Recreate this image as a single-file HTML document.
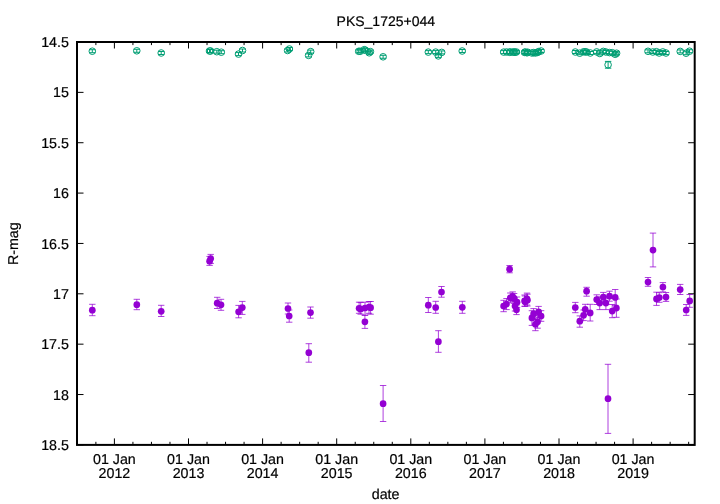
<!DOCTYPE html>
<html><head><meta charset="utf-8"><title>PKS_1725+044</title>
<style>html,body{margin:0;padding:0;background:#fff;}body{width:720px;height:504px;overflow:hidden;}svg{display:block;will-change:transform;}text{text-rendering:geometricPrecision;font-family:"Liberation Sans",sans-serif;font-size:14.25px;fill:#000;stroke:#000;stroke-width:0.2px;}</style>
</head><body>
<svg width="720" height="504" viewBox="0 0 720 504">
<rect x="0" y="0" width="720" height="504" fill="#fff"/>
<g stroke="#000" stroke-width="1.0" fill="none">
<path d="M114.40 444.9 V438.40 M114.40 42.0 V48.50"/>
<path d="M188.50 444.9 V438.40 M188.50 42.0 V48.50"/>
<path d="M262.60 444.9 V438.40 M262.60 42.0 V48.50"/>
<path d="M336.70 444.9 V438.40 M336.70 42.0 V48.50"/>
<path d="M410.80 444.9 V438.40 M410.80 42.0 V48.50"/>
<path d="M484.90 444.9 V438.40 M484.90 42.0 V48.50"/>
<path d="M559.00 444.9 V438.40 M559.00 42.0 V48.50"/>
<path d="M633.10 444.9 V438.40 M633.10 42.0 V48.50"/>
<path d="M95.88 444.9 V441.80 M95.88 42.0 V45.10"/>
<path d="M132.93 444.9 V441.80 M132.93 42.0 V45.10"/>
<path d="M151.45 444.9 V441.80 M151.45 42.0 V45.10"/>
<path d="M169.97 444.9 V441.80 M169.97 42.0 V45.10"/>
<path d="M207.03 444.9 V441.80 M207.03 42.0 V45.10"/>
<path d="M225.55 444.9 V441.80 M225.55 42.0 V45.10"/>
<path d="M244.07 444.9 V441.80 M244.07 42.0 V45.10"/>
<path d="M281.12 444.9 V441.80 M281.12 42.0 V45.10"/>
<path d="M299.65 444.9 V441.80 M299.65 42.0 V45.10"/>
<path d="M318.17 444.9 V441.80 M318.17 42.0 V45.10"/>
<path d="M355.23 444.9 V441.80 M355.23 42.0 V45.10"/>
<path d="M373.75 444.9 V441.80 M373.75 42.0 V45.10"/>
<path d="M392.27 444.9 V441.80 M392.27 42.0 V45.10"/>
<path d="M429.32 444.9 V441.80 M429.32 42.0 V45.10"/>
<path d="M447.85 444.9 V441.80 M447.85 42.0 V45.10"/>
<path d="M466.38 444.9 V441.80 M466.38 42.0 V45.10"/>
<path d="M503.42 444.9 V441.80 M503.42 42.0 V45.10"/>
<path d="M521.95 444.9 V441.80 M521.95 42.0 V45.10"/>
<path d="M540.48 444.9 V441.80 M540.48 42.0 V45.10"/>
<path d="M577.52 444.9 V441.80 M577.52 42.0 V45.10"/>
<path d="M596.05 444.9 V441.80 M596.05 42.0 V45.10"/>
<path d="M614.57 444.9 V441.80 M614.57 42.0 V45.10"/>
<path d="M651.62 444.9 V441.80 M651.62 42.0 V45.10"/>
<path d="M670.15 444.9 V441.80 M670.15 42.0 V45.10"/>
<path d="M688.67 444.9 V441.80 M688.67 42.0 V45.10"/>
<path d="M77.0 42.00 H83.50 M694.7 42.00 H688.20"/>
<path d="M77.0 92.36 H83.50 M694.7 92.36 H688.20"/>
<path d="M77.0 142.72 H83.50 M694.7 142.72 H688.20"/>
<path d="M77.0 193.09 H83.50 M694.7 193.09 H688.20"/>
<path d="M77.0 243.45 H83.50 M694.7 243.45 H688.20"/>
<path d="M77.0 293.81 H83.50 M694.7 293.81 H688.20"/>
<path d="M77.0 344.17 H83.50 M694.7 344.17 H688.20"/>
<path d="M77.0 394.54 H83.50 M694.7 394.54 H688.20"/>
<path d="M77.0 444.90 H83.50 M694.7 444.90 H688.20"/>
</g>
<g stroke="#009e73" stroke-width="1" fill="none">
<path d="M92.3 49.7 V52.7 M89.1 49.7 h6.4 M89.1 52.7 h6.4"/>
<circle cx="92.3" cy="51.2" r="3.3"/>
<path d="M136.8 49.3 V52.3 M133.6 49.3 h6.4 M133.6 52.3 h6.4"/>
<circle cx="136.8" cy="50.8" r="3.3"/>
<path d="M161.2 51.5 V54.5 M158.0 51.5 h6.4 M158.0 54.5 h6.4"/>
<circle cx="161.2" cy="53.0" r="3.3"/>
<path d="M209.5 49.5 V52.5 M206.3 49.5 h6.4 M206.3 52.5 h6.4"/>
<circle cx="209.5" cy="51.0" r="3.3"/>
<path d="M210.6 49.5 V52.5 M207.4 49.5 h6.4 M207.4 52.5 h6.4"/>
<circle cx="210.6" cy="51.0" r="3.3"/>
<path d="M216.8 50.2 V53.2 M213.6 50.2 h6.4 M213.6 53.2 h6.4"/>
<circle cx="216.8" cy="51.7" r="3.3"/>
<path d="M221.3 50.7 V53.7 M218.1 50.7 h6.4 M218.1 53.7 h6.4"/>
<circle cx="221.3" cy="52.2" r="3.3"/>
<path d="M238.5 52.6 V55.6 M235.3 52.6 h6.4 M235.3 55.6 h6.4"/>
<circle cx="238.5" cy="54.1" r="3.3"/>
<path d="M242.5 49.0 V52.0 M239.3 49.0 h6.4 M239.3 52.0 h6.4"/>
<circle cx="242.5" cy="50.5" r="3.3"/>
<path d="M287.6 49.0 V52.0 M284.4 49.0 h6.4 M284.4 52.0 h6.4"/>
<circle cx="287.6" cy="50.5" r="3.3"/>
<path d="M289.4 47.5 V50.5 M286.2 47.5 h6.4 M286.2 50.5 h6.4"/>
<circle cx="289.4" cy="49.0" r="3.3"/>
<path d="M308.6 53.9 V56.9 M305.4 53.9 h6.4 M305.4 56.9 h6.4"/>
<circle cx="308.6" cy="55.4" r="3.3"/>
<path d="M310.7 50.1 V53.1 M307.5 50.1 h6.4 M307.5 53.1 h6.4"/>
<circle cx="310.7" cy="51.6" r="3.3"/>
<path d="M358.7 49.8 V52.8 M355.5 49.8 h6.4 M355.5 52.8 h6.4"/>
<circle cx="358.7" cy="51.3" r="3.3"/>
<path d="M360.2 49.8 V52.8 M357.0 49.8 h6.4 M357.0 52.8 h6.4"/>
<circle cx="360.2" cy="51.3" r="3.3"/>
<path d="M364.3 48.2 V51.2 M361.1 48.2 h6.4 M361.1 51.2 h6.4"/>
<circle cx="364.3" cy="49.7" r="3.3"/>
<path d="M365.5 48.8 V51.8 M362.3 48.8 h6.4 M362.3 51.8 h6.4"/>
<circle cx="365.5" cy="50.3" r="3.3"/>
<path d="M369.2 51.3 V54.3 M366.0 51.3 h6.4 M366.0 54.3 h6.4"/>
<circle cx="369.2" cy="52.8" r="3.3"/>
<path d="M370.4 50.1 V53.1 M367.2 50.1 h6.4 M367.2 53.1 h6.4"/>
<circle cx="370.4" cy="51.6" r="3.3"/>
<path d="M383.1 55.3 V58.3 M379.9 55.3 h6.4 M379.9 58.3 h6.4"/>
<circle cx="383.1" cy="56.8" r="3.3"/>
<path d="M428.3 50.6 V53.6 M425.1 50.6 h6.4 M425.1 53.6 h6.4"/>
<circle cx="428.3" cy="52.1" r="3.3"/>
<path d="M435.7 50.6 V53.6 M432.5 50.6 h6.4 M432.5 53.6 h6.4"/>
<circle cx="435.7" cy="52.1" r="3.3"/>
<path d="M438.3 54.4 V57.4 M435.1 54.4 h6.4 M435.1 57.4 h6.4"/>
<circle cx="438.3" cy="55.9" r="3.3"/>
<path d="M441.7 50.9 V53.9 M438.5 50.9 h6.4 M438.5 53.9 h6.4"/>
<circle cx="441.7" cy="52.4" r="3.3"/>
<path d="M462.2 49.5 V52.5 M459.0 49.5 h6.4 M459.0 52.5 h6.4"/>
<circle cx="462.2" cy="51.0" r="3.3"/>
<path d="M503.7 50.6 V53.6 M500.5 50.6 h6.4 M500.5 53.6 h6.4"/>
<circle cx="503.7" cy="52.1" r="3.3"/>
<path d="M506.6 50.5 V53.5 M503.4 50.5 h6.4 M503.4 53.5 h6.4"/>
<circle cx="506.6" cy="52.0" r="3.3"/>
<path d="M509.6 50.8 V53.8 M506.4 50.8 h6.4 M506.4 53.8 h6.4"/>
<circle cx="509.6" cy="52.3" r="3.3"/>
<path d="M510.3 50.4 V53.4 M507.1 50.4 h6.4 M507.1 53.4 h6.4"/>
<circle cx="510.3" cy="51.9" r="3.3"/>
<path d="M512.7 50.7 V53.7 M509.5 50.7 h6.4 M509.5 53.7 h6.4"/>
<circle cx="512.7" cy="52.2" r="3.3"/>
<path d="M514.1 50.4 V53.4 M510.9 50.4 h6.4 M510.9 53.4 h6.4"/>
<circle cx="514.1" cy="51.9" r="3.3"/>
<path d="M515.0 50.8 V53.8 M511.8 50.8 h6.4 M511.8 53.8 h6.4"/>
<circle cx="515.0" cy="52.3" r="3.3"/>
<path d="M516.4 50.5 V53.5 M513.2 50.5 h6.4 M513.2 53.5 h6.4"/>
<circle cx="516.4" cy="52.0" r="3.3"/>
<path d="M524.6 50.9 V53.9 M521.4 50.9 h6.4 M521.4 53.9 h6.4"/>
<circle cx="524.6" cy="52.4" r="3.3"/>
<path d="M525.2 50.5 V53.5 M522.0 50.5 h6.4 M522.0 53.5 h6.4"/>
<circle cx="525.2" cy="52.0" r="3.3"/>
<path d="M527.0 51.3 V54.3 M523.8 51.3 h6.4 M523.8 54.3 h6.4"/>
<circle cx="527.0" cy="52.8" r="3.3"/>
<path d="M527.6 50.7 V53.7 M524.4 50.7 h6.4 M524.4 53.7 h6.4"/>
<circle cx="527.6" cy="52.2" r="3.3"/>
<path d="M531.9 51.5 V54.5 M528.7 51.5 h6.4 M528.7 54.5 h6.4"/>
<circle cx="531.9" cy="53.0" r="3.3"/>
<path d="M533.6 51.1 V54.1 M530.4 51.1 h6.4 M530.4 54.1 h6.4"/>
<circle cx="533.6" cy="52.6" r="3.3"/>
<path d="M535.4 51.5 V54.5 M532.2 51.5 h6.4 M532.2 54.5 h6.4"/>
<circle cx="535.4" cy="53.0" r="3.3"/>
<path d="M537.6 50.9 V53.9 M534.4 50.9 h6.4 M534.4 53.9 h6.4"/>
<circle cx="537.6" cy="52.4" r="3.3"/>
<path d="M538.6 50.1 V53.1 M535.4 50.1 h6.4 M535.4 53.1 h6.4"/>
<circle cx="538.6" cy="51.6" r="3.3"/>
<path d="M541.1 49.5 V52.5 M537.9 49.5 h6.4 M537.9 52.5 h6.4"/>
<circle cx="541.1" cy="51.0" r="3.3"/>
<path d="M575.3 50.5 V53.5 M572.1 50.5 h6.4 M572.1 53.5 h6.4"/>
<circle cx="575.3" cy="52.0" r="3.3"/>
<path d="M579.7 51.7 V54.7 M576.5 51.7 h6.4 M576.5 54.7 h6.4"/>
<circle cx="579.7" cy="53.2" r="3.3"/>
<path d="M583.6 50.3 V53.3 M580.4 50.3 h6.4 M580.4 53.3 h6.4"/>
<circle cx="583.6" cy="51.8" r="3.3"/>
<path d="M585.2 50.3 V53.3 M582.0 50.3 h6.4 M582.0 53.3 h6.4"/>
<circle cx="585.2" cy="51.8" r="3.3"/>
<path d="M586.5 50.5 V53.5 M583.3 50.5 h6.4 M583.3 53.5 h6.4"/>
<circle cx="586.5" cy="52.0" r="3.3"/>
<path d="M590.3 51.5 V54.5 M587.1 51.5 h6.4 M587.1 54.5 h6.4"/>
<circle cx="590.3" cy="53.0" r="3.3"/>
<path d="M596.7 50.4 V53.4 M593.5 50.4 h6.4 M593.5 53.4 h6.4"/>
<circle cx="596.7" cy="51.9" r="3.3"/>
<path d="M599.8 52.0 V55.0 M596.6 52.0 h6.4 M596.6 55.0 h6.4"/>
<circle cx="599.8" cy="53.5" r="3.3"/>
<path d="M603.3 49.9 V52.9 M600.1 49.9 h6.4 M600.1 52.9 h6.4"/>
<circle cx="603.3" cy="51.4" r="3.3"/>
<path d="M605.9 50.5 V53.5 M602.7 50.5 h6.4 M602.7 53.5 h6.4"/>
<circle cx="605.9" cy="52.0" r="3.3"/>
<path d="M609.5 51.1 V54.1 M606.3 51.1 h6.4 M606.3 54.1 h6.4"/>
<circle cx="609.5" cy="52.6" r="3.3"/>
<path d="M612.3 51.2 V54.2 M609.1 51.2 h6.4 M609.1 54.2 h6.4"/>
<circle cx="612.3" cy="52.7" r="3.3"/>
<path d="M615.2 52.8 V55.8 M612.0 52.8 h6.4 M612.0 55.8 h6.4"/>
<circle cx="615.2" cy="54.3" r="3.3"/>
<path d="M616.6 51.7 V54.7 M613.4 51.7 h6.4 M613.4 54.7 h6.4"/>
<circle cx="616.6" cy="53.2" r="3.3"/>
<path d="M648.0 49.8 V52.8 M644.8 49.8 h6.4 M644.8 52.8 h6.4"/>
<circle cx="648.0" cy="51.3" r="3.3"/>
<path d="M652.8 50.5 V53.5 M649.6 50.5 h6.4 M649.6 53.5 h6.4"/>
<circle cx="652.8" cy="52.0" r="3.3"/>
<path d="M656.4 50.2 V53.2 M653.2 50.2 h6.4 M653.2 53.2 h6.4"/>
<circle cx="656.4" cy="51.7" r="3.3"/>
<path d="M659.2 51.5 V54.5 M656.0 51.5 h6.4 M656.0 54.5 h6.4"/>
<circle cx="659.2" cy="53.0" r="3.3"/>
<path d="M662.8 50.4 V53.4 M659.6 50.4 h6.4 M659.6 53.4 h6.4"/>
<circle cx="662.8" cy="51.9" r="3.3"/>
<path d="M666.0 51.5 V54.5 M662.8 51.5 h6.4 M662.8 54.5 h6.4"/>
<circle cx="666.0" cy="53.0" r="3.3"/>
<path d="M680.2 49.9 V52.9 M677.0 49.9 h6.4 M677.0 52.9 h6.4"/>
<circle cx="680.2" cy="51.4" r="3.3"/>
<path d="M686.1 51.7 V54.7 M682.9 51.7 h6.4 M682.9 54.7 h6.4"/>
<circle cx="686.1" cy="53.2" r="3.3"/>
<path d="M689.5 49.7 V52.7 M686.3 49.7 h6.4 M686.3 52.7 h6.4"/>
<circle cx="689.5" cy="51.2" r="3.3"/>
<path d="M608.1 61.4 V68.2 M604.9 61.4 h6.4 M604.9 68.2 h6.4"/>
<circle cx="608.1" cy="64.8" r="3.3"/>
</g>
<g stroke="#9400d3" stroke-width="1" fill="none" stroke-opacity="0.75">
<path d="M92.3 304.3 V315.7 M89.1 304.3 h6.4 M89.1 315.7 h6.4"/>
<path d="M136.8 299.3 V309.7 M133.6 299.3 h6.4 M133.6 309.7 h6.4"/>
<path d="M161.2 305.3 V316.5 M158.0 305.3 h6.4 M158.0 316.5 h6.4"/>
<path d="M209.6 256.4 V265.4 M206.4 256.4 h6.4 M206.4 265.4 h6.4"/>
<path d="M210.7 254.4 V263.4 M207.5 254.4 h6.4 M207.5 263.4 h6.4"/>
<path d="M217.2 297.3 V308.5 M214.0 297.3 h6.4 M214.0 308.5 h6.4"/>
<path d="M221.0 299.3 V310.3 M217.8 299.3 h6.4 M217.8 310.3 h6.4"/>
<path d="M238.6 305.4 V317.8 M235.4 305.4 h6.4 M235.4 317.8 h6.4"/>
<path d="M242.3 301.4 V314.4 M239.1 301.4 h6.4 M239.1 314.4 h6.4"/>
<path d="M288.0 303.0 V314.0 M284.8 303.0 h6.4 M284.8 314.0 h6.4"/>
<path d="M289.2 310.0 V322.2 M286.0 310.0 h6.4 M286.0 322.2 h6.4"/>
<path d="M310.5 307.0 V318.2 M307.3 307.0 h6.4 M307.3 318.2 h6.4"/>
<path d="M308.8 343.7 V362.2 M305.6 343.7 h6.4 M305.6 362.2 h6.4"/>
<path d="M359.1 302.2 V313.3 M355.9 302.2 h6.4 M355.9 313.3 h6.4"/>
<path d="M360.7 302.4 V314.2 M357.5 302.4 h6.4 M357.5 314.2 h6.4"/>
<path d="M365.0 302.2 V315.3 M361.8 302.2 h6.4 M361.8 315.3 h6.4"/>
<path d="M369.0 301.5 V313.3 M365.8 301.5 h6.4 M365.8 313.3 h6.4"/>
<path d="M370.6 301.5 V314.2 M367.4 301.5 h6.4 M367.4 314.2 h6.4"/>
<path d="M364.9 315.2 V328.4 M361.7 315.2 h6.4 M361.7 328.4 h6.4"/>
<path d="M383.1 385.5 V421.5 M379.9 385.5 h6.4 M379.9 421.5 h6.4"/>
<path d="M428.3 297.5 V312.5 M425.1 297.5 h6.4 M425.1 312.5 h6.4"/>
<path d="M435.7 301.3 V313.3 M432.5 301.3 h6.4 M432.5 313.3 h6.4"/>
<path d="M441.5 286.5 V297.2 M438.3 286.5 h6.4 M438.3 297.2 h6.4"/>
<path d="M438.4 330.7 V352.3 M435.2 330.7 h6.4 M435.2 352.3 h6.4"/>
<path d="M462.3 301.3 V313.3 M459.1 301.3 h6.4 M459.1 313.3 h6.4"/>
<path d="M509.6 265.5 V272.8 M506.4 265.5 h6.4 M506.4 272.8 h6.4"/>
<path d="M503.6 300.3 V311.7 M500.4 300.3 h6.4 M500.4 311.7 h6.4"/>
<path d="M506.5 298.5 V309.6 M503.3 298.5 h6.4 M503.3 309.6 h6.4"/>
<path d="M510.3 293.0 V302.8 M507.1 293.0 h6.4 M507.1 302.8 h6.4"/>
<path d="M512.7 291.9 V301.2 M509.5 291.9 h6.4 M509.5 301.2 h6.4"/>
<path d="M514.1 293.5 V303.3 M510.9 293.5 h6.4 M510.9 303.3 h6.4"/>
<path d="M517.0 297.0 V307.4 M513.8 297.0 h6.4 M513.8 307.4 h6.4"/>
<path d="M515.0 301.0 V311.0 M511.8 301.0 h6.4 M511.8 311.0 h6.4"/>
<path d="M516.5 305.0 V314.6 M513.3 305.0 h6.4 M513.3 314.6 h6.4"/>
<path d="M524.6 295.0 V306.3 M521.4 295.0 h6.4 M521.4 306.3 h6.4"/>
<path d="M527.0 293.1 V305.0 M523.8 293.1 h6.4 M523.8 305.0 h6.4"/>
<path d="M527.4 294.2 V306.0 M524.2 294.2 h6.4 M524.2 306.0 h6.4"/>
<path d="M525.0 296.0 V306.3 M521.8 296.0 h6.4 M521.8 306.3 h6.4"/>
<path d="M531.9 310.7 V325.4 M528.7 310.7 h6.4 M528.7 325.4 h6.4"/>
<path d="M533.6 308.6 V319.2 M530.4 308.6 h6.4 M530.4 319.2 h6.4"/>
<path d="M538.6 306.4 V317.2 M535.4 306.4 h6.4 M535.4 317.2 h6.4"/>
<path d="M541.1 310.7 V321.3 M537.9 310.7 h6.4 M537.9 321.3 h6.4"/>
<path d="M537.6 315.5 V328.2 M534.4 315.5 h6.4 M534.4 328.2 h6.4"/>
<path d="M535.4 318.0 V330.7 M532.2 318.0 h6.4 M532.2 330.7 h6.4"/>
<path d="M575.3 302.4 V312.7 M572.1 302.4 h6.4 M572.1 312.7 h6.4"/>
<path d="M579.8 315.9 V327.2 M576.6 315.9 h6.4 M576.6 327.2 h6.4"/>
<path d="M583.6 310.0 V320.6 M580.4 310.0 h6.4 M580.4 320.6 h6.4"/>
<path d="M585.2 304.3 V314.3 M582.0 304.3 h6.4 M582.0 314.3 h6.4"/>
<path d="M586.6 287.3 V296.2 M583.4 287.3 h6.4 M583.4 296.2 h6.4"/>
<path d="M590.2 304.3 V321.0 M587.0 304.3 h6.4 M587.0 321.0 h6.4"/>
<path d="M596.7 294.8 V304.5 M593.5 294.8 h6.4 M593.5 304.5 h6.4"/>
<path d="M599.7 296.8 V309.6 M596.5 296.8 h6.4 M596.5 309.6 h6.4"/>
<path d="M603.3 292.4 V302.0 M600.1 292.4 h6.4 M600.1 302.0 h6.4"/>
<path d="M605.9 296.8 V309.6 M602.7 296.8 h6.4 M602.7 309.6 h6.4"/>
<path d="M609.5 291.2 V301.2 M606.3 291.2 h6.4 M606.3 301.2 h6.4"/>
<path d="M612.2 304.5 V317.7 M609.0 304.5 h6.4 M609.0 317.7 h6.4"/>
<path d="M615.2 289.5 V305.3 M612.0 289.5 h6.4 M612.0 305.3 h6.4"/>
<path d="M616.4 299.0 V317.3 M613.2 299.0 h6.4 M613.2 317.3 h6.4"/>
<path d="M608.0 364.3 V433.4 M604.8 364.3 h6.4 M604.8 433.4 h6.4"/>
<path d="M653.0 233.1 V266.9 M649.8 233.1 h6.4 M649.8 266.9 h6.4"/>
<path d="M648.0 277.5 V286.3 M644.8 277.5 h6.4 M644.8 286.3 h6.4"/>
<path d="M656.5 292.2 V305.4 M653.3 292.2 h6.4 M653.3 305.4 h6.4"/>
<path d="M659.3 292.7 V302.3 M656.1 292.7 h6.4 M656.1 302.3 h6.4"/>
<path d="M662.9 282.6 V291.9 M659.7 282.6 h6.4 M659.7 291.9 h6.4"/>
<path d="M666.0 292.5 V301.4 M662.8 292.5 h6.4 M662.8 301.4 h6.4"/>
<path d="M680.2 284.4 V294.5 M677.0 284.4 h6.4 M677.0 294.5 h6.4"/>
<path d="M686.2 304.5 V315.4 M683.0 304.5 h6.4 M683.0 315.4 h6.4"/>
<path d="M689.7 294.5 V307.3 M686.5 294.5 h6.4 M686.5 307.3 h6.4"/>
</g>
<g fill="#9400d3" stroke="none">
<circle cx="92.3" cy="310.2" r="3.35"/>
<circle cx="136.8" cy="304.7" r="3.35"/>
<circle cx="161.2" cy="311.3" r="3.35"/>
<circle cx="209.6" cy="261.2" r="3.35"/>
<circle cx="210.7" cy="258.6" r="3.35"/>
<circle cx="217.2" cy="303.2" r="3.35"/>
<circle cx="221.0" cy="304.8" r="3.35"/>
<circle cx="238.6" cy="311.8" r="3.35"/>
<circle cx="242.3" cy="307.6" r="3.35"/>
<circle cx="288.0" cy="308.5" r="3.35"/>
<circle cx="289.2" cy="316.0" r="3.35"/>
<circle cx="310.5" cy="312.6" r="3.35"/>
<circle cx="308.8" cy="352.7" r="3.35"/>
<circle cx="359.1" cy="308.3" r="3.35"/>
<circle cx="360.7" cy="309.0" r="3.35"/>
<circle cx="365.0" cy="308.0" r="3.35"/>
<circle cx="369.0" cy="307.0" r="3.35"/>
<circle cx="370.6" cy="307.7" r="3.35"/>
<circle cx="364.9" cy="321.8" r="3.35"/>
<circle cx="383.1" cy="403.7" r="3.35"/>
<circle cx="428.3" cy="305.2" r="3.35"/>
<circle cx="435.7" cy="307.5" r="3.35"/>
<circle cx="441.5" cy="292.0" r="3.35"/>
<circle cx="438.4" cy="341.7" r="3.35"/>
<circle cx="462.3" cy="307.3" r="3.35"/>
<circle cx="509.6" cy="269.2" r="3.35"/>
<circle cx="503.6" cy="306.0" r="3.35"/>
<circle cx="506.5" cy="304.1" r="3.35"/>
<circle cx="510.3" cy="297.9" r="3.35"/>
<circle cx="512.7" cy="296.5" r="3.35"/>
<circle cx="514.1" cy="298.4" r="3.35"/>
<circle cx="517.0" cy="302.2" r="3.35"/>
<circle cx="515.0" cy="306.0" r="3.35"/>
<circle cx="516.5" cy="309.8" r="3.35"/>
<circle cx="524.6" cy="300.8" r="3.35"/>
<circle cx="527.0" cy="298.9" r="3.35"/>
<circle cx="527.4" cy="300.3" r="3.35"/>
<circle cx="525.0" cy="301.7" r="3.35"/>
<circle cx="531.9" cy="317.9" r="3.35"/>
<circle cx="533.6" cy="313.9" r="3.35"/>
<circle cx="538.6" cy="311.8" r="3.35"/>
<circle cx="541.1" cy="316.1" r="3.35"/>
<circle cx="537.6" cy="321.8" r="3.35"/>
<circle cx="535.4" cy="324.3" r="3.35"/>
<circle cx="575.3" cy="307.5" r="3.35"/>
<circle cx="579.8" cy="321.2" r="3.35"/>
<circle cx="583.6" cy="315.3" r="3.35"/>
<circle cx="585.2" cy="309.3" r="3.35"/>
<circle cx="586.6" cy="291.2" r="3.35"/>
<circle cx="590.2" cy="312.9" r="3.35"/>
<circle cx="596.7" cy="299.6" r="3.35"/>
<circle cx="599.7" cy="303.1" r="3.35"/>
<circle cx="603.3" cy="297.2" r="3.35"/>
<circle cx="605.9" cy="303.1" r="3.35"/>
<circle cx="609.5" cy="296.2" r="3.35"/>
<circle cx="612.2" cy="311.1" r="3.35"/>
<circle cx="615.2" cy="297.4" r="3.35"/>
<circle cx="616.4" cy="308.1" r="3.35"/>
<circle cx="608.0" cy="398.7" r="3.35"/>
<circle cx="653.0" cy="250.1" r="3.35"/>
<circle cx="648.0" cy="282.1" r="3.35"/>
<circle cx="656.5" cy="298.9" r="3.35"/>
<circle cx="659.3" cy="297.6" r="3.35"/>
<circle cx="662.9" cy="287.0" r="3.35"/>
<circle cx="666.0" cy="297.1" r="3.35"/>
<circle cx="680.2" cy="289.6" r="3.35"/>
<circle cx="686.2" cy="310.0" r="3.35"/>
<circle cx="689.7" cy="300.9" r="3.35"/>
</g>
<rect x="77.0" y="42.0" width="617.70" height="402.90" fill="none" stroke="#000" stroke-width="2"/>
<text x="385.8" y="25.7" text-anchor="middle" style="font-size:14px">PKS_1725+044</text>
<text x="68.9" y="47.10" text-anchor="end">14.5</text>
<text x="68.9" y="97.46" text-anchor="end">15</text>
<text x="68.9" y="147.82" text-anchor="end">15.5</text>
<text x="68.9" y="198.19" text-anchor="end">16</text>
<text x="68.9" y="248.55" text-anchor="end">16.5</text>
<text x="68.9" y="298.91" text-anchor="end">17</text>
<text x="68.9" y="349.27" text-anchor="end">17.5</text>
<text x="68.9" y="399.64" text-anchor="end">18</text>
<text x="68.9" y="450.00" text-anchor="end">18.5</text>
<text x="114.40" y="464.2" text-anchor="middle">01 Jan</text>
<text x="114.40" y="478.3" text-anchor="middle">2012</text>
<text x="188.50" y="464.2" text-anchor="middle">01 Jan</text>
<text x="188.50" y="478.3" text-anchor="middle">2013</text>
<text x="262.60" y="464.2" text-anchor="middle">01 Jan</text>
<text x="262.60" y="478.3" text-anchor="middle">2014</text>
<text x="336.70" y="464.2" text-anchor="middle">01 Jan</text>
<text x="336.70" y="478.3" text-anchor="middle">2015</text>
<text x="410.80" y="464.2" text-anchor="middle">01 Jan</text>
<text x="410.80" y="478.3" text-anchor="middle">2016</text>
<text x="484.90" y="464.2" text-anchor="middle">01 Jan</text>
<text x="484.90" y="478.3" text-anchor="middle">2017</text>
<text x="559.00" y="464.2" text-anchor="middle">01 Jan</text>
<text x="559.00" y="478.3" text-anchor="middle">2018</text>
<text x="633.10" y="464.2" text-anchor="middle">01 Jan</text>
<text x="633.10" y="478.3" text-anchor="middle">2019</text>
<text x="385.6" y="499" text-anchor="middle">date</text>
<text transform="translate(18.0,243.7) rotate(-90)" text-anchor="middle">R-mag</text>
</svg></body></html>
